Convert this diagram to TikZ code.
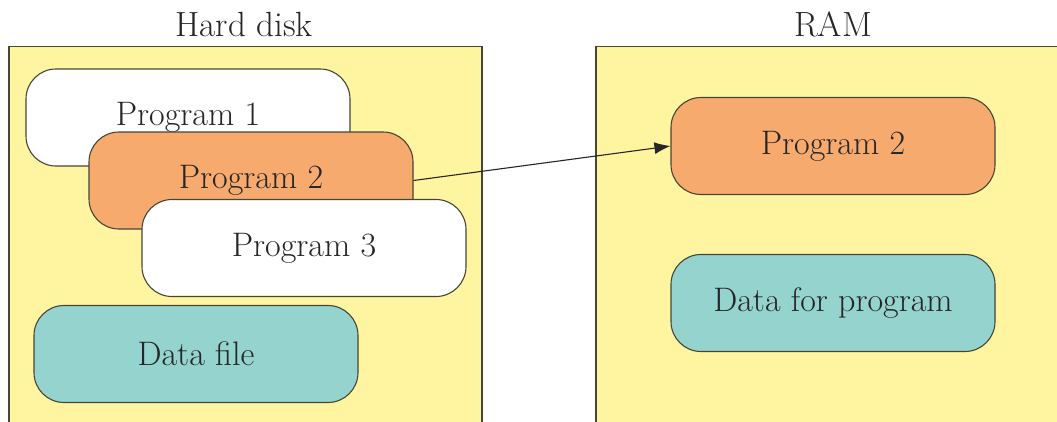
\documentclass[tikz,border=0pt]{standalone}
\usetikzlibrary{arrows.meta}
\definecolor{diskyellow}{RGB}{255,244,160}
\definecolor{progorange}{RGB}{247,170,110}
\definecolor{datateal}{RGB}{148,211,206}
\definecolor{edgegray}{RGB}{70,70,55}
\tikzset{
  panel/.style={draw=edgegray, line width=1.1pt, fill=diskyellow},
  blob/.style={draw=edgegray, line width=1.1pt, rounded corners=30pt,
    minimum width=324pt, minimum height=97pt, inner sep=0pt,
    font=\fontsize{34}{40}\selectfont, text=black!85},
  white blob/.style={blob, fill=white},
  orange blob/.style={blob, fill=progorange},
  teal blob/.style={blob, fill=datateal},
  title/.style={font=\fontsize{35}{40}\selectfont, text=black!85, anchor=base},
  link/.style={-{Latex[length=16pt,width=12pt]}, line width=1.1pt, draw=black!85}
}
\begin{document}
\begin{tikzpicture}[x=1pt,y=-1pt]
\useasboundingbox[fill=white] (0,0) rectangle (1057,421);
\begin{scope}
\clip (0,0) rectangle (1057,421);
\draw[panel] (9,46.5) rectangle (482,440);
\draw[panel] (596,46.5) rectangle (1070,440);
\end{scope}
\node[title] (hd) at (244,36) {Hard disk};
\node[title] (ram) at (833,36) {RAM};
\node[white blob] (p1) at (188,117.5) {Program 1};
\node[orange blob] (p2) at (251,180.5) {Program 2};
\node[white blob] (p3) at (304,248) {Program 3};
\node[teal blob] (df) at (196,354) {Data file};
\node[orange blob] (rp2) at (833,146) {Program 2};
\node[teal blob] (rd) at (833,303) {Data for program};
\draw[link] (p2.east) -- (rp2.west);
\end{tikzpicture}
\end{document}
